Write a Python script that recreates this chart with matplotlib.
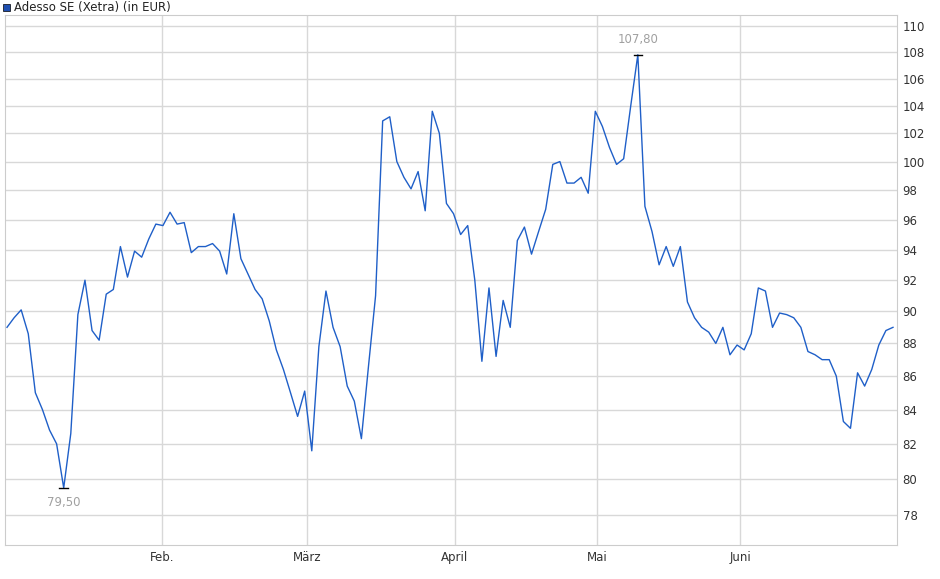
import matplotlib
matplotlib.use("Agg")
import matplotlib.pyplot as plt
import numpy as np

jan = [89.0, 89.6, 90.1, 88.6, 85.0, 84.0, 82.8, 82.0, 79.5, 82.6, 89.8, 92.0, 88.8, 88.2, 91.1, 91.4, 94.2, 92.2, 93.9, 93.5, 94.7, 95.7]
feb = [95.6, 96.5, 95.7, 95.8, 93.8, 94.2, 94.2, 94.4, 93.9, 92.4, 96.4, 93.4, 92.4, 91.4, 90.8, 89.4, 87.6, 86.4, 85.0, 83.6, 85.1, 81.6]
mar = [87.8, 91.3, 89.0, 87.8, 85.4, 84.5, 82.3, 86.6, 91.0, 102.9, 103.2, 100.0, 98.9, 98.1, 99.3, 96.6, 103.6, 102.0, 97.1, 96.4, 95.0]
apr = [95.6, 92.0, 86.9, 91.5, 87.2, 90.7, 89.0, 94.6, 95.5, 93.7, 95.2, 96.7, 99.8, 100.0, 98.5, 98.5, 98.9, 97.8, 103.6]
mai = [102.5, 101.0, 99.8, 100.2, 104.0, 107.8, 96.9, 95.2, 93.0, 94.2, 92.9, 94.2, 90.6, 89.6, 89.0, 88.7, 88.0, 89.0, 87.3, 87.9, 87.6]
jun = [88.6, 91.5, 91.3, 89.0, 89.9, 89.8, 89.6, 89.0, 87.5, 87.3, 87.0, 87.0, 86.0, 83.3, 82.9, 86.2, 85.4, 86.4, 87.9, 88.8, 89.0]
values = jan + feb + mar + apr + mai + jun
month_labels = ["Feb.", "März", "April", "Mai", "Juni"]
month_px = [162, 307, 455, 597, 740]
yticks = list(range(78, 111, 2))

n = len(values)
step = (893 - 7) / (n - 1)
x = np.arange(n)
month_pos = [(p - 7) / step for p in month_px]

fig = plt.figure(figsize=(9.4, 5.79), dpi=100)
ax = fig.add_axes([5/940, 1-545/579, 892/940, 530/579])
ax.plot(x, values, color="#1f5fc8", lw=1.0)
ax.set_yscale("log")
k = (np.log(110) - np.log(78)) / 489
ax.set_xlim((5 - 7) / step, (897 - 7) / step)
ax.set_ylim(78 * np.exp(-30 * k), 110 * np.exp(11 * k))
ax.yaxis.set_minor_locator(matplotlib.ticker.NullLocator())
ax.set_yticks(yticks)
ax.set_yticklabels([str(v) for v in yticks], fontsize=8.5)
ax.yaxis.tick_right()
ax.set_xticks(month_pos)
ax.set_xticklabels(month_labels, fontsize=8.5)
ax.tick_params(length=0, pad=4, colors="#333333")
ax.grid(True, color="#d8d8d8", lw=1)
ax.set_axisbelow(True)
for s in ax.spines.values():
    s.set_color("#cccccc")

imin = int(np.argmin(values)); imax = int(np.argmax(values))
for i, va, off in [(imin, "top", -6), (imax, "bottom", 6)]:
    v = values[i]
    ax.plot([i - 0.6, i + 0.6], [v, v], color="black", lw=1)
    ax.annotate(f"{v:.2f}".replace(".", ","), (i, v), xytext=(0, off), textcoords="offset points",
                ha="center", va=va, fontsize=8.5, color="#a0a0a0")

fig.patches.append(plt.Rectangle((3/940, 1-11/579), 7/940, 7/579, transform=fig.transFigure,
                                 facecolor="#1f4fb0", edgecolor="black", lw=0.5))
fig.text(14/940, 1-7.5/579, "Adesso SE (Xetra) (in EUR)", fontsize=8.5, va="center", color="#222222")
fig.savefig("out.png", dpi=100)
